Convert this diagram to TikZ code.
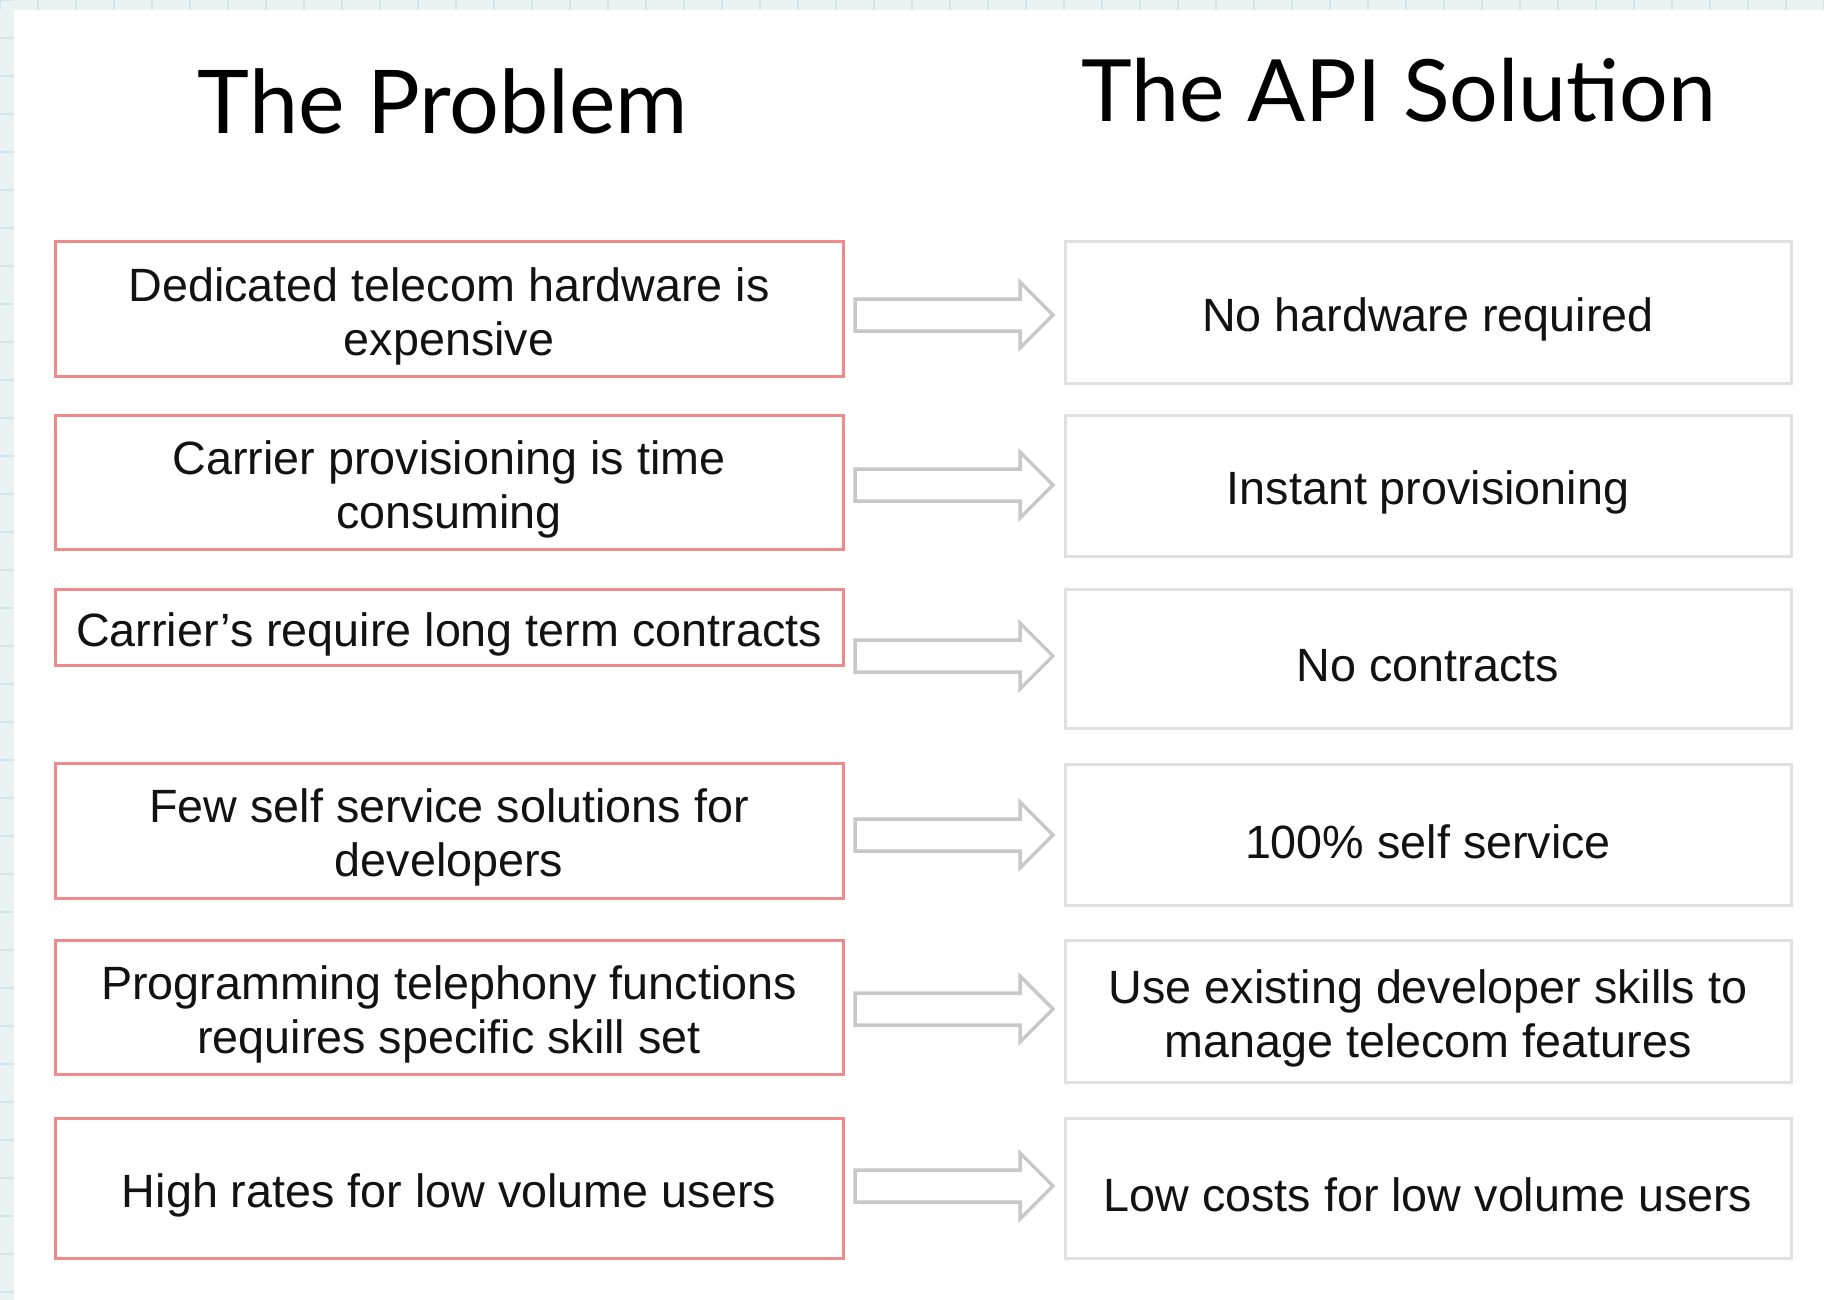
\documentclass[tikz,border=0pt]{standalone}
\usepackage{fontspec}
\setmainfont{Liberation Sans}
\newfontfamily\titlefont{Lato}
\definecolor{probred}{HTML}{F08A8A}
\definecolor{solgray}{HTML}{E0E0E0}
\definecolor{arrgray}{HTML}{C8C8C8}
\definecolor{paperbg}{HTML}{EAF2F4}
\definecolor{paperline}{HTML}{D3E4EA}
\tikzset{
  probbox/.style={draw=probred, line width=3pt, fill=white, rectangle, inner sep=0pt,
    minimum width=788pt},
  solbox/.style={draw=solgray, line width=3pt, fill=white, rectangle, inner sep=0pt,
    minimum width=726pt},
  boxtext/.style={inner sep=0pt, align=center, text=black!93, yshift=-7pt,
    font=\fontsize{46.7}{54}\selectfont},
  blockarrow/.style={draw=arrgray, line width=3.5pt, fill=white, line join=miter},
  titletext/.style={anchor=base, inner sep=0pt, text=black}
}
\newcommand{\blockarr}[1]{%
  \draw[blockarrow] (#1) ++(0,-16) -- ++(165,0) -- ++(0,-17) -- ++(33,33) -- ++(-33,33) -- ++(0,-17) -- ++(-165,0) -- cycle;}
\begin{document}
\begin{tikzpicture}[x=1pt,y=-1pt]
\useasboundingbox (0,0) rectangle (1824,1300);
% paper background
\fill[paperbg] (0,0) rectangle (1824,1300);
\foreach \gx in {0,38,...,1824} {\draw[paperline, line width=1.2pt] (\gx,0) -- (\gx,10);}
\foreach \gy in {0,38,...,1300} {\draw[paperline, line width=1.2pt] (0,\gy) -- (14,\gy);}
\fill[white] (14,10) rectangle (1824,1300);

% titles
\node[titletext, font=\titlefont\fontsize{88}{96}\selectfont] (tprob) at (443,134) {The Problem};
\node[titletext, font=\titlefont\fontsize{86}{94}\selectfont] (tsol) at (1399,122) {The API Solution};

% problem boxes
\node[probbox, minimum height=134pt] (L1) at (449,309) {};
\node[probbox, minimum height=134pt] (L2) at (449,482) {};
\node[probbox, minimum height=76pt]  (L3) at (449,627) {};
\node[probbox, minimum height=135pt] (L4) at (449,830.5) {};
\node[probbox, minimum height=134pt] (L5) at (449,1007) {};
\node[probbox, minimum height=140pt] (L6) at (449,1188) {};
\node[boxtext] (L1t) at (L1.center) {Dedicated telecom hardware is\\expensive};
\node[boxtext] (L2t) at (L2.center) {Carrier provisioning is time\\consuming};
\node[boxtext] (L3t) at (L3.center) {Carrier’s require long term contracts};
\node[boxtext] (L4t) at (L4.center) {Few self service solutions for\\developers};
\node[boxtext] (L5t) at (L5.center) {Programming telephony functions\\requires specific skill set};
\node[boxtext] (L6t) at (L6.center) {High rates for low volume users};

% solution boxes
\node[solbox, minimum height=141pt] (R1) at (1428,312.5) {};
\node[solbox, minimum height=141pt] (R2) at (1428,485.5) {};
\node[solbox, minimum height=139pt] (R3) at (1428,658.5) {};
\node[solbox, minimum height=141pt] (R4) at (1428,834.5) {};
\node[solbox, minimum height=142pt] (R5) at (1428,1011) {};
\node[solbox, minimum height=140pt] (R6) at (1428,1188) {};
\node[boxtext] (R1t) at (R1.center) {No hardware required};
\node[boxtext] (R2t) at (R2.center) {Instant provisioning};
\node[boxtext] (R3t) at (R3.center) {No contracts};
\node[boxtext] (R4t) at (R4.center) {100\% self service};
\node[boxtext] (R5t) at (R5.center) {Use existing developer skills to\\manage telecom features};
\node[boxtext] (R6t) at (R6.center) {Low costs for low volume users};

% arrows
\coordinate (a1) at (855,315);
\coordinate (a2) at (855,485);
\coordinate (a3) at (855,656);
\coordinate (a4) at (855,835);
\coordinate (a5) at (855,1009);
\coordinate (a6) at (855,1186);
\blockarr{a1}
\blockarr{a2}
\blockarr{a3}
\blockarr{a4}
\blockarr{a5}
\blockarr{a6}
\end{tikzpicture}
\end{document}
